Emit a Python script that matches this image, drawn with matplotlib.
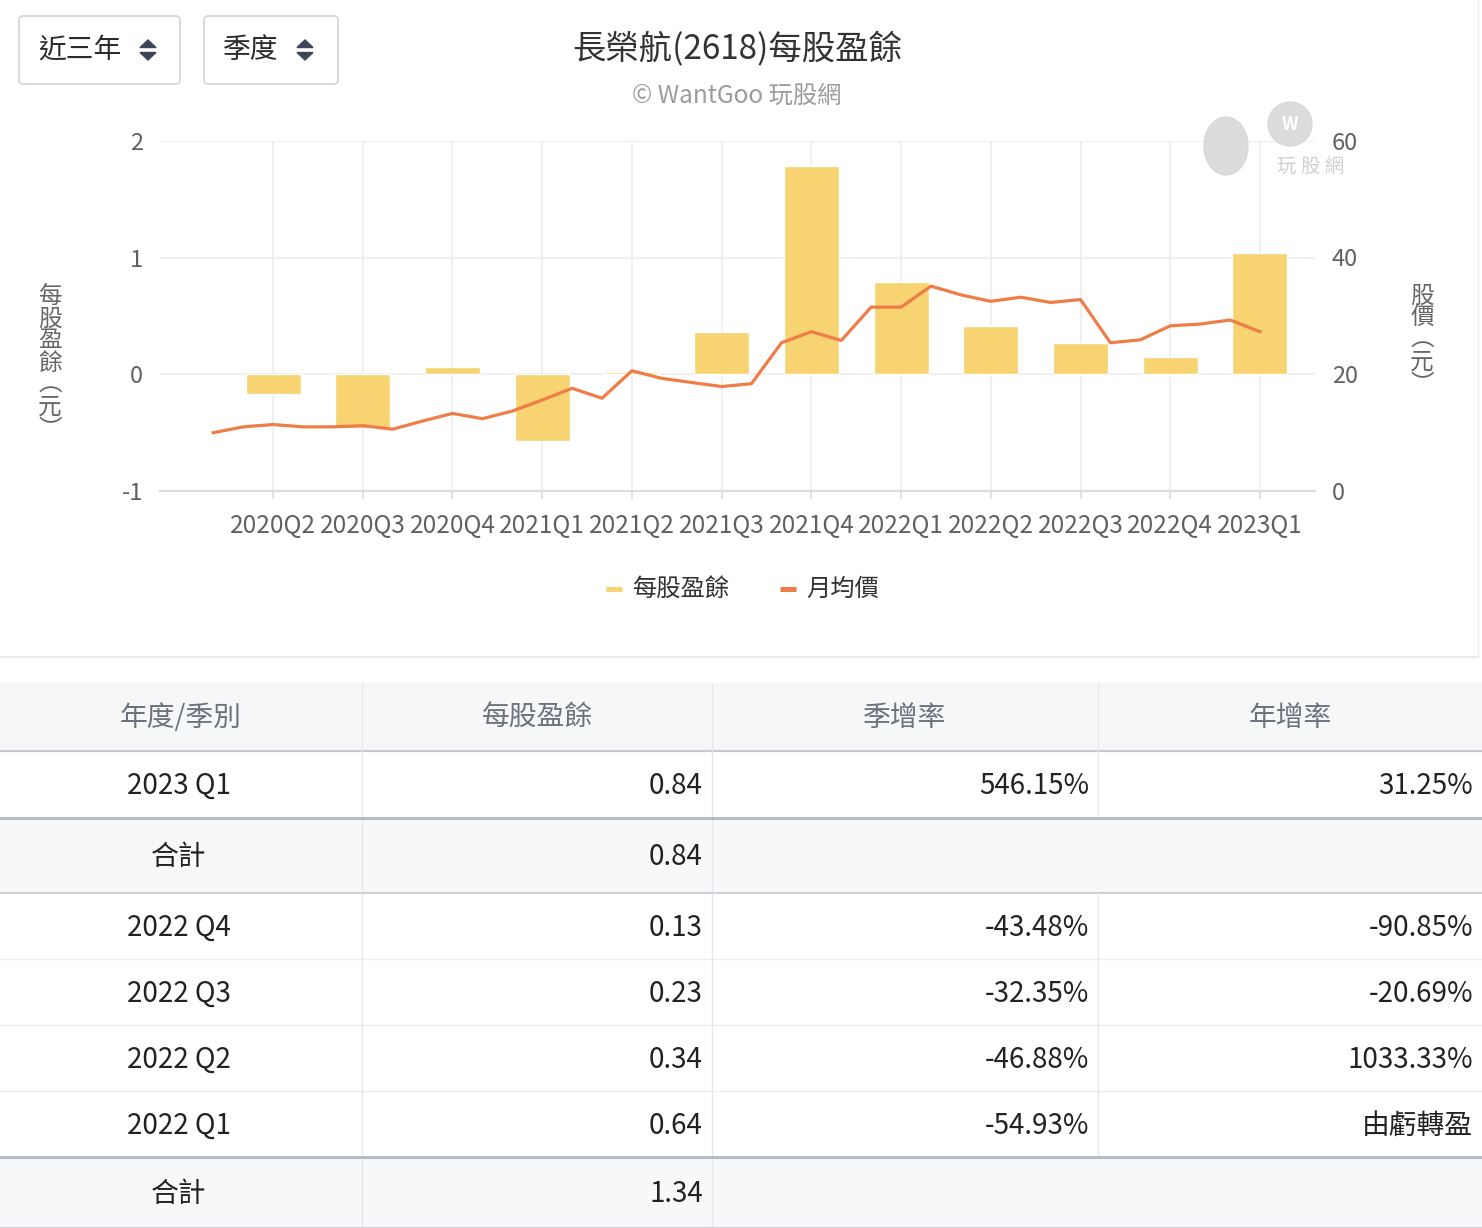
import matplotlib.pyplot as plt
import numpy as np
import pandas as pd
from matplotlib.patches import FancyBboxPatch, Rectangle, Polygon, Ellipse, Circle

plt.rcParams['font.family'] = ['Noto Sans CJK TC', 'DejaVu Sans']
plt.rcParams['axes.unicode_minus'] = False

# chart data
quarters = ['2020Q2', '2020Q3', '2020Q4', '2021Q1', '2021Q2', '2021Q3',
            '2021Q4', '2022Q1', '2022Q2', '2022Q3', '2022Q4', '2023Q1']
eps = [-0.17, -0.46, 0.06, -0.57, 0.02, 0.36,
       1.78, 0.79, 0.41, 0.27, 0.15, 1.04]
months = pd.period_range('2020-04', '2023-03', freq='M')
price = [10.0, 11.0, 11.4, 11.0, 11.0, 11.2, 10.6, 12.0, 13.3, 12.4,
         13.7, 15.6, 17.6, 15.9, 20.6, 19.3, 18.6, 17.9, 18.4, 25.4,
         27.3, 25.8, 31.5, 31.5, 35.1, 33.6, 32.5, 33.2, 32.3, 32.8,
         25.4, 25.9, 28.3, 28.6, 29.3, 27.3]

# table data
table_header = ['年度/季別', '每股盈餘', '季增率', '年增率']
table_rows = [
    ['2023 Q1', '0.84', '546.15%', '31.25%'],
    ['合計', '0.84', '', ''],
    ['2022 Q4', '0.13', '-43.48%', '-90.85%'],
    ['2022 Q3', '0.23', '-32.35%', '-20.69%'],
    ['2022 Q2', '0.34', '-46.88%', '1033.33%'],
    ['2022 Q1', '0.64', '-54.93%', '由虧轉盈'],
    ['合計', '1.34', '', ''],
]

BAR_COLOR = '#f7d372'
LINE_COLOR = '#ee7d48'
W, H = 1482, 1228

fig = plt.figure(figsize=(W / 100, H / 100), dpi=100)
fig.patch.set_facecolor('white')

# pixel-space canvas for decorations and the table
bg = fig.add_axes([0, 0, 1, 1], zorder=0)
bg.set_xlim(0, W)
bg.set_ylim(H, 0)
bg.axis('off')


def dropdown(x0, width, label, arrow_x):
    bg.add_patch(FancyBboxPatch((x0, 16), width, 68,
                                boxstyle='round,pad=0,rounding_size=4',
                                fc='white', ec='#d3d8de', lw=1.3))
    bg.text(x0 + 19, 50, label, fontsize=20, color='#2b2b2b',
            ha='left', va='center')
    bg.add_patch(Polygon([(arrow_x - 8, 47.5), (arrow_x + 8, 47.5),
                          (arrow_x, 40)], color='#3b4759'))
    bg.add_patch(Polygon([(arrow_x - 8, 52.5), (arrow_x + 8, 52.5),
                          (arrow_x, 60)], color='#3b4759'))


dropdown(19, 161, '近三年', 148)
dropdown(204, 134, '季度', 305)

bg.text(737, 50, '長榮航(2618)每股盈餘', fontsize=24, color='#333333',
        ha='center', va='center')
bg.text(737, 96, '© WantGoo 玩股網', fontsize=17.5, color='#9c9c9c',
        ha='center', va='center')

# axis titles, stacked vertically
bg.text(50, 363, '\n'.join('每股盈餘︵元︶'), fontsize=17, color='#666666',
        ha='center', va='center', linespacing=0.95)
bg.text(1422, 340, '\n'.join('股價︵元︶'), fontsize=17, color='#666666',
        ha='center', va='center', linespacing=0.95)

# legend
bg.plot([606, 622], [589, 589], color=BAR_COLOR, lw=3.6, solid_capstyle='butt')
bg.text(632, 589, '每股盈餘', fontsize=17.5, color='#333333', ha='left', va='center')
bg.plot([780, 796], [589, 589], color=LINE_COLOR, lw=3.6, solid_capstyle='butt')
bg.text(806, 589, '月均價', fontsize=17.5, color='#333333', ha='left', va='center')

# container borders
bg.plot([0, 1478], [656.5, 656.5], color='#e3e7ec', lw=1.2)
bg.plot([1478, 1478], [0, 656.5], color='#ececec', lw=1.0)

# chart
ax = fig.add_axes([160 / W, 1 - 491.1 / H, 1155 / W, 350.4 / H], zorder=2)
ax.set_facecolor('none')
month_q = [f'{p.year}Q{p.quarter}' for p in months]
x = np.arange(len(months))
qx = [max(i for i, m in enumerate(month_q) if m == q) for q in quarters]

ax.bar(qx, eps, width=1.84, color=BAR_COLOR, edgecolor='white',
       linewidth=1, zorder=2)
ax.set_xlim(-1.78, 36.84)
ax.set_ylim(-1, 2)
ax.set_yticks([-1, 0, 1, 2])
ax.set_xticks(qx)
ax.set_xticklabels(quarters)
ax.set_axisbelow(True)
ax.grid(axis='both', color='#eeeeee', lw=1.2)
for s in ['top', 'right', 'left']:
    ax.spines[s].set_visible(False)
ax.spines['bottom'].set_color('#dddddd')
ax.spines['bottom'].set_linewidth(1.6)
ax.tick_params(axis='x', length=6, width=1.2, color='#dddddd',
               labelsize=17.5, labelcolor='#606060', pad=10)
ax.tick_params(axis='y', length=0, labelsize=17, labelcolor='#606060',
               pad=12)

ax2 = ax.twinx()
ax2.set_zorder(3)
ax2.plot(x, price, color=LINE_COLOR, lw=2.3, solid_joinstyle='round')
ax2.set_ylim(0, 60)
ax2.set_yticks([0, 20, 40, 60])
ax2.tick_params(axis='y', length=0, labelsize=17, labelcolor='#606060',
                pad=12)
for s in ax2.spines.values():
    s.set_visible(False)

# watermark
top = fig.add_axes([0, 0, 1, 1], zorder=5)
top.set_xlim(0, W)
top.set_ylim(H, 0)
top.axis('off')
top.add_patch(Ellipse((1226, 146), 44, 58, color='#d4d4d4', alpha=0.8))
top.add_patch(Circle((1290, 124), 22, color='#d4d4d4', alpha=0.8))
top.text(1290, 124, 'W', fontsize=13, color='white', fontweight='bold',
         ha='center', va='center')
top.text(1311, 166, '玩 股 網', fontsize=14, color='#cfcfcf',
         ha='center', va='center')

# table
col_edges = [0, 362, 712, 1098, 1482]
row_edges = [751, 818, 893, 959, 1025, 1091, 1157, 1228]
bg.add_patch(Rectangle((0, 683), W, 68, fc='#f6f7f9', ec='none'))
for i, h in enumerate(table_header):
    cx = (col_edges[i] + col_edges[i + 1]) / 2
    bg.text(cx, 718, h, fontsize=20, color='#6c737c', ha='center', va='center')
for c in col_edges[1:4]:
    bg.plot([c, c], [683, 751], color='#e6e8eb', lw=1)
bg.plot([0, W], [751, 751], color='#c6cad0', lw=1.6)

for r, row in enumerate(table_rows):
    y0, y1 = row_edges[r], row_edges[r + 1]
    yc = (y0 + y1) / 2 + 1.5
    total = row[0] == '合計'
    if total:
        bg.add_patch(Rectangle((0, y0), W, y1 - y0, fc='#f7f8fa', ec='none'))
    bg.text((col_edges[0] + col_edges[1]) / 2 - 2, yc, row[0], fontsize=20,
            color='#222222', ha='center', va='center')
    for j in range(1, 4):
        if row[j]:
            bg.text(col_edges[j + 1] - 9, yc, row[j], fontsize=20,
                    color='#222222', ha='right', va='center')
    lines = col_edges[1:3] if total else col_edges[1:4]
    for c in lines:
        bg.plot([c, c], [y0, y1], color='#e6e8eb', lw=1)
    if total:
        bg.plot([0, W], [y0, y0], color='#b6bcc3', lw=2.2)
        bg.plot([0, W], [y1, y1], color='#c9cdd2', lw=1.3)
    elif r + 1 < len(table_rows) and table_rows[r + 1][0] != '合計':
        bg.plot([0, W], [y1, y1], color='#eceef0', lw=1)

fig.savefig('out.png', dpi=100, facecolor='white')
